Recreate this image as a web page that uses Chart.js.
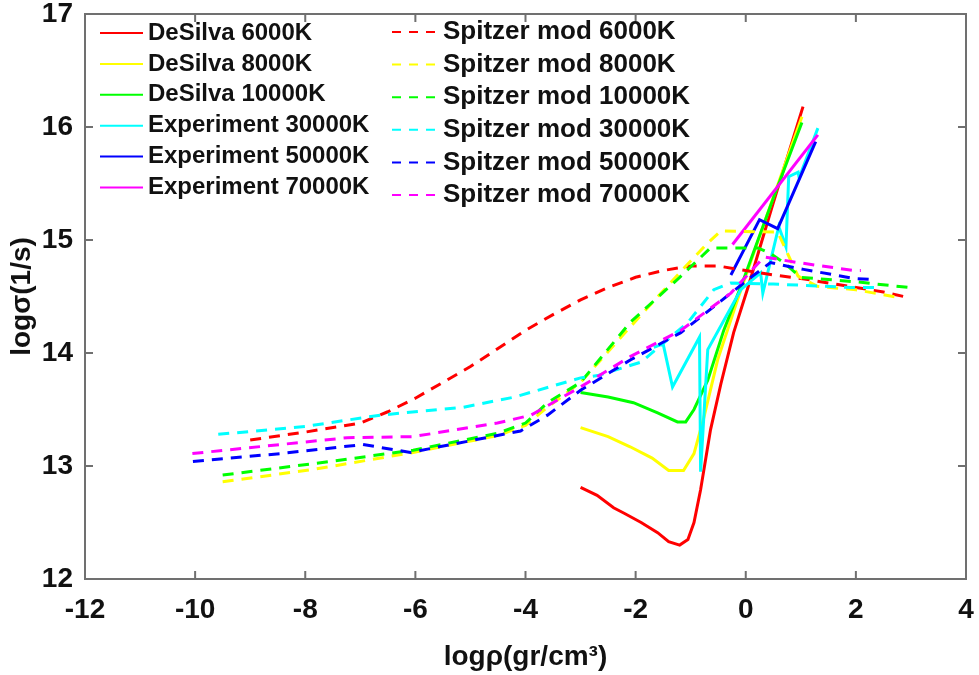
<!DOCTYPE html>
<html>
<head>
<meta charset="utf-8">
<script src="https://cdn.jsdelivr.net/npm/chart.js@4.4.1/dist/chart.umd.min.js"></script>
<style>
  html, body { margin: 0; padding: 0; background: #fff; }
  #wrap { width: 979px; height: 675px; }
</style>
</head>
<body>
<div id="wrap"><canvas id="sigmaChart" width="979" height="675"></canvas></div>
<script>
// tick values
const xTicks = [-12, -10, -8, -6, -4, -2, 0, 2, 4];
const yTicks = [12, 13, 14, 15, 16, 17];

// DeSilva (solid)
const desilva6000X = [-3.0, -2.7, -2.4, -2.2, -1.9, -1.6, -1.4, -1.2, -1.05, -0.94, -0.82, -0.64, -0.45, -0.22, 0.04, 0.5, 1.04];
const desilva6000Y = [12.81, 12.74, 12.63, 12.58, 12.50, 12.41, 12.33, 12.30, 12.35, 12.50, 12.79, 13.32, 13.73, 14.18, 14.58, 15.33, 16.18];
const desilva8000X = [-3.0, -2.5, -2.1, -1.7, -1.4, -1.13, -0.94, -0.76, -0.51, -0.15, 0.4, 1.02];
const desilva8000Y = [13.34, 13.26, 13.17, 13.07, 12.96, 12.96, 13.11, 13.43, 13.94, 14.47, 15.24, 16.09];
const desilva10000X = [-3.0, -2.5, -2.04, -1.6, -1.24, -1.09, -0.94, -0.69, -0.4, -0.04, 0.5, 1.02];
const desilva10000Y = [13.65, 13.61, 13.56, 13.47, 13.39, 13.39, 13.50, 13.76, 14.20, 14.65, 15.37, 16.04];

// Experiment (solid)
const exp30000X = [-1.67, -1.5, -1.33, -0.84, -0.82, -0.69, -0.09, 0.27, 0.31, 0.6, 0.73, 0.78, 0.95, 0.97, 1.31];
const exp30000Y = [14.05, 14.08, 13.70, 14.14, 12.95, 14.03, 14.56, 14.71, 14.53, 15.12, 14.94, 15.56, 15.60, 15.55, 15.99];
const exp50000X = [-0.27, 0.25, 0.58, 1.27];
const exp50000Y = [14.69, 15.18, 15.10, 15.87];
const exp70000X = [-0.24, 1.31];
const exp70000Y = [14.96, 15.93];

// Spitzer mod (dashed)
const spitzer6000X = [-9, -8, -7, -6.5, -6, -5.5, -5, -4.5, -4, -3.5, -3, -2.5, -2, -1.5, -1, -0.5, 0, 0.5, 1, 1.5, 2, 2.5, 2.96];
const spitzer6000Y = [13.23, 13.30, 13.38, 13.48, 13.60, 13.74, 13.88, 14.04, 14.20, 14.34, 14.47, 14.58, 14.67, 14.73, 14.77, 14.77, 14.73, 14.69, 14.66, 14.62, 14.58, 14.54, 14.49];
const spitzer8000X = [-9.5, -7.85, -6.04, -4.5, -4.0, -3.6, -3.0, -2.1, -1.2, -0.7, -0.45, 0.58, 0.76, 0.95, 1.3, 2.0, 2.78];
const spitzer8000Y = [12.86, 12.97, 13.12, 13.27, 13.36, 13.52, 13.74, 14.23, 14.71, 14.97, 15.08, 15.07, 14.88, 14.68, 14.59, 14.56, 14.49];
const spitzer10000X = [-9.5, -7.55, -6.04, -4.5, -4.0, -3.6, -3.0, -2.1, -1.2, -0.64, 0.22, 0.45, 0.69, 1.0, 2.0, 2.96];
const spitzer10000Y = [12.92, 13.04, 13.14, 13.29, 13.38, 13.56, 13.74, 14.27, 14.67, 14.93, 14.93, 14.88, 14.80, 14.67, 14.63, 14.58];
const spitzer30000X = [-9.58, -8, -6.64, -5.13, -4.2, -3.0, -2.69, -1.9, -1.05, -0.58, -0.27, 0.5, 1.0, 1.9, 2.42];
const spitzer30000Y = [13.28, 13.35, 13.45, 13.52, 13.61, 13.78, 13.80, 13.92, 14.27, 14.56, 14.62, 14.61, 14.60, 14.58, 14.58];
const spitzer50000X = [-10.04, -8.45, -6.95, -6.09, -4.51, -4.09, -3.6, -3.0, -2.09, -1.18, -0.58, 0.04, 0.45, 0.64, 1.05, 1.96, 2.31];
const spitzer50000Y = [13.04, 13.11, 13.19, 13.12, 13.27, 13.31, 13.45, 13.67, 13.94, 14.18, 14.41, 14.65, 14.80, 14.78, 14.74, 14.66, 14.65];
const spitzer70000X = [-10.05, -8.45, -7.24, -6.04, -4.51, -3.9, -3.0, -2.09, -1.18, -0.27, 0.33, 0.95, 1.96, 2.09];
const spitzer70000Y = [13.11, 13.19, 13.25, 13.26, 13.38, 13.45, 13.70, 13.97, 14.20, 14.53, 14.85, 14.80, 14.73, 14.73];

const FONT = '"Liberation Sans", Arial, sans-serif';
const DASH = [11, 8];

function pts(xs, ys) {
  return xs.map((x, i) => ({ x: x, y: ys[i] }));
}

function series(label, xs, ys, color, dashed) {
  return {
    label: label,
    data: pts(xs, ys),
    borderColor: color,
    backgroundColor: color,
    borderWidth: 3,
    borderDash: dashed ? DASH : [],
    showLine: true,
    pointRadius: 0,
    tension: 0,
  };
}

const datasets = [
  series('DeSilva 6000K', desilva6000X, desilva6000Y, '#ff0000', false),
  series('DeSilva 8000K', desilva8000X, desilva8000Y, '#ffff00', false),
  series('DeSilva 10000K', desilva10000X, desilva10000Y, '#00ff00', false),
  series('Experiment 30000K', exp30000X, exp30000Y, '#00ffff', false),
  series('Experiment 50000K', exp50000X, exp50000Y, '#0000ff', false),
  series('Experiment 70000K', exp70000X, exp70000Y, '#ff00ff', false),
  series('Spitzer mod 6000K', spitzer6000X, spitzer6000Y, '#ff0000', true),
  series('Spitzer mod 8000K', spitzer8000X, spitzer8000Y, '#ffff00', true),
  series('Spitzer mod 10000K', spitzer10000X, spitzer10000Y, '#00ff00', true),
  series('Spitzer mod 30000K', spitzer30000X, spitzer30000Y, '#00ffff', true),
  series('Spitzer mod 50000K', spitzer50000X, spitzer50000Y, '#0000ff', true),
  series('Spitzer mod 70000K', spitzer70000X, spitzer70000Y, '#ff00ff', true),
];
// later series drawn on top, like the original
datasets.forEach((d, i) => { d.order = datasets.length - i; });

// box, inward ticks and the two-column legend
const frameAndLegend = {
  id: 'frameAndLegend',
  afterDatasetsDraw(chart) {
    const { ctx, chartArea: a, scales } = chart;
    const tl = 8;
    ctx.save();
    ctx.strokeStyle = '#707070';
    ctx.lineWidth = 2;
    ctx.strokeRect(a.left, a.top, a.right - a.left, a.bottom - a.top);
    ctx.beginPath();
    xTicks.forEach(v => {
      const px = scales.x.getPixelForValue(v);
      ctx.moveTo(px, a.bottom); ctx.lineTo(px, a.bottom - tl);
      ctx.moveTo(px, a.top); ctx.lineTo(px, a.top + tl);
    });
    yTicks.forEach(v => {
      const py = scales.y.getPixelForValue(v);
      ctx.moveTo(a.left, py); ctx.lineTo(a.left + tl, py);
      ctx.moveTo(a.right, py); ctx.lineTo(a.right - tl, py);
    });
    ctx.stroke();

    // legend
    const cols = [
      { x0: 100, x1: 143, tx: 148, y0: 33, dy: 30.9, size: 24 },
      { x0: 392, x1: 440, tx: 443, y0: 32, dy: 32.6, size: 26 },
    ];
    ctx.textBaseline = 'middle';
    ctx.textAlign = 'left';
    chart.data.datasets.forEach((d, i) => {
      const c = cols[i < 6 ? 0 : 1];
      const y = c.y0 + (i % 6) * c.dy;
      ctx.strokeStyle = d.borderColor;
      ctx.lineWidth = 2;
      ctx.setLineDash(d.borderDash.length ? [9, 8] : []);
      ctx.beginPath();
      ctx.moveTo(c.x0, y);
      ctx.lineTo(c.x1, y);
      ctx.stroke();
      ctx.setLineDash([]);
      ctx.fillStyle = '#111';
      ctx.font = 'bold ' + c.size + 'px ' + FONT;
      ctx.fillText(d.label, c.tx, y);
    });
    ctx.restore();
  }
};

const ctx = document.getElementById('sigmaChart').getContext('2d');
new Chart(ctx, {
  type: 'scatter',
  data: { datasets: datasets },
  options: {
    responsive: false,
    animation: false,
    layout: { padding: { top: 14, right: 13, left: 0, bottom: 0 } },
    plugins: {
      legend: { display: false },
      tooltip: { enabled: false },
    },
    scales: {
      x: {
        type: 'linear',
        min: -12,
        max: 4,
        grid: { display: false, drawTicks: false },
        border: { display: false },
        ticks: {
          stepSize: 2,
          padding: 14,
          autoSkip: false,
          maxRotation: 0,
          color: '#111',
          font: { family: FONT, size: 28, weight: 'bold' },
        },
        title: {
          display: true,
          text: 'logρ(gr/cm³)',
          color: '#111',
          font: { family: FONT, size: 28, weight: 'bold' },
          padding: { top: 0, bottom: 1 },
        },
        afterFit(s) {
          s.height = 96;
          s.paddingLeft = 0;
          s.paddingRight = 0;
        },
      },
      y: {
        type: 'linear',
        min: 12,
        max: 17,
        grid: { display: false, drawTicks: false },
        border: { display: false },
        ticks: {
          stepSize: 1,
          padding: 12,
          color: '#111',
          font: { family: FONT, size: 28, weight: 'bold' },
        },
        title: {
          display: true,
          text: 'logσ(1/s)',
          color: '#111',
          font: { family: FONT, size: 28, weight: 'bold' },
          padding: { top: 5, bottom: 0 },
        },
        afterFit(s) {
          s.width = 85;
          s.paddingTop = 0;
          s.paddingBottom = 0;
        },
      },
    },
  },
  plugins: [frameAndLegend],
});
</script>
</body>
</html>
